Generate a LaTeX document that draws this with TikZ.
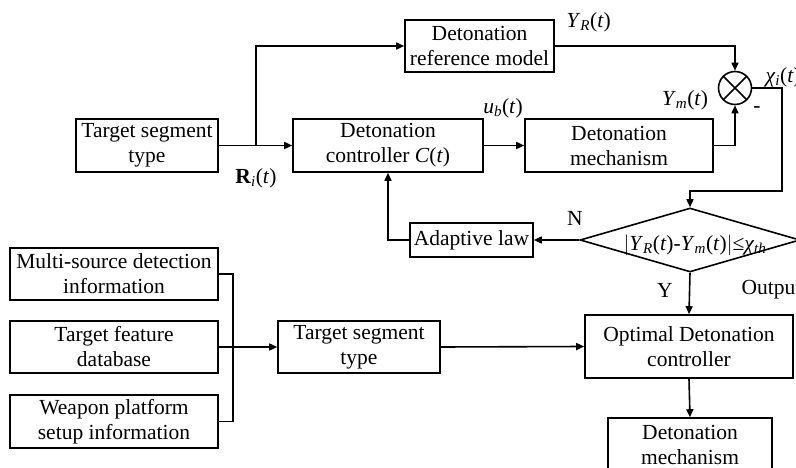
\documentclass[tikz,border=0pt]{standalone}
\usepackage{fontspec}
\setmainfont{Liberation Serif}
\usetikzlibrary{arrows.meta,shapes.geometric}

\newcommand{\vi}[1]{\textit{#1}}
\newcommand{\vsub}[2]{\textit{#1}\textsubscript{\textit{#2}}}

\tikzset{
  blk/.style={draw, line width=1.6pt, inner sep=0pt, align=center},
  dia/.style={draw, diamond, line width=1.6pt, inner sep=0pt, aspect=3.4},
  sumj/.style={draw, circle, line width=1.6pt, inner sep=0pt, minimum size=33pt},
  lnk/.style={line width=1.6pt},
  arr/.style={line width=1.6pt, -{Triangle[length=8pt,width=7pt]}}
}

\begin{document}
\begin{tikzpicture}[x=1pt,y=-1pt,font=\fontsize{21.5}{25}\selectfont]
            \useasboundingbox (0,0) rectangle (796,468);
            \clip (0,0) rectangle (796,468);

            % upper loop
            \node[blk, minimum width=142pt, minimum height=53pt] (tst1) at (147,145.5) {Target segment\\type};
            \node[blk, minimum width=190pt, minimum height=53pt] (ctrl) at (388,145.5) {Detonation\\controller \vi{C}(\vi{t})};
            \node[blk, minimum width=149pt, minimum height=52pt] (refm) at (479.5,46) {Detonation\\reference model};
            \node[blk, minimum width=188pt, minimum height=53pt] (mech1) at (619,145.5) {Detonation\\mechanism};
            \node[sumj] (sum) at (735,88) {};
            \draw[lnk] (sum.north west) -- (sum.south east);
            \draw[lnk] (sum.south west) -- (sum.north east);
            \node[blk, minimum width=123pt, minimum height=34pt] (adapt) at (471.5,240) {Adaptive law};
            \node[dia, minimum width=220pt, minimum height=64pt,
                  label={[xshift=5pt,yshift=-5pt]center:{$|$\vsub{Y}{R}(\vi{t})-\vsub{Y}{m}(\vi{t})$|$≤\vsub{χ}{th}}}] (dec) at (690,240) {};

            % lower chain
            \node[blk, minimum width=208pt, minimum height=63pt] (opt) at (689,346.5) {Optimal Detonation\\controller};
            \node[blk, minimum width=164pt, minimum height=53pt] (mech2) at (690,444.5) {Detonation\\mechanism};
            \node[blk, minimum width=162pt, minimum height=52pt] (tst2) at (359,347) {Target segment\\type};
            \node[blk, minimum width=208pt, minimum height=52pt] (ms) at (114,274) {Multi-source detection\\information};
            \node[blk, minimum width=208pt, minimum height=52pt] (db) at (114,347) {Target feature\\database};
            \node[blk, minimum width=208pt, minimum height=53pt] (wp) at (114,421.5) {Weapon platform\\setup information};

            \coordinate (br) at (256,145.5);
            \coordinate (turn) at (782,191);
            \coordinate (jn) at (233,347);

            % connectors
            \draw[arr] (tst1.east) -- (ctrl.west);
            \draw[arr] (br) |- (refm.west);
            \draw[arr] (ctrl.east) -- (mech1.west);
            \draw[arr] (refm.east) -| (sum.north);
            \draw[arr] (mech1.east) -| (sum.south);
            \draw[arr] (sum.east) -| (turn) -| (dec.north);
            \draw[arr] (dec.west) -- (adapt.east);
            \draw[arr] (adapt.west) -| (ctrl.south);
            \draw[arr] (dec.south) -- (opt.north);
            \draw[arr] (opt.south) -- (mech2.north);
            \draw[arr] (tst2.east) -- (opt.west);
            \draw[arr] (db.east) -- (tst2.west);
            \draw[lnk] (ms.east) -| (jn) |- (wp.east);

            % labels
            \node[anchor=west] (lyr) at (563,22) {\vsub{Y}{R}(\vi{t})};
            \node[anchor=west] (lchi) at (762,77) {\vsub{χ}{i}(\vi{t})};
            \node (lym) at (685,100) {\vsub{Y}{m}(\vi{t})};
            \node (lminus) at (757,110) {-};
            \node (lub) at (503,108) {\vsub{u}{b}(\vi{t})};
            \node (lri) at (256,178) {\textbf{R}\textsubscript{\vi{i}}(\vi{t})};
            \node (ln) at (575,218) {N};
            \node (ly) at (665,290) {Y};
            \node[anchor=west] (lout) at (738,290) {Output};
            \end{tikzpicture}
\end{document}
